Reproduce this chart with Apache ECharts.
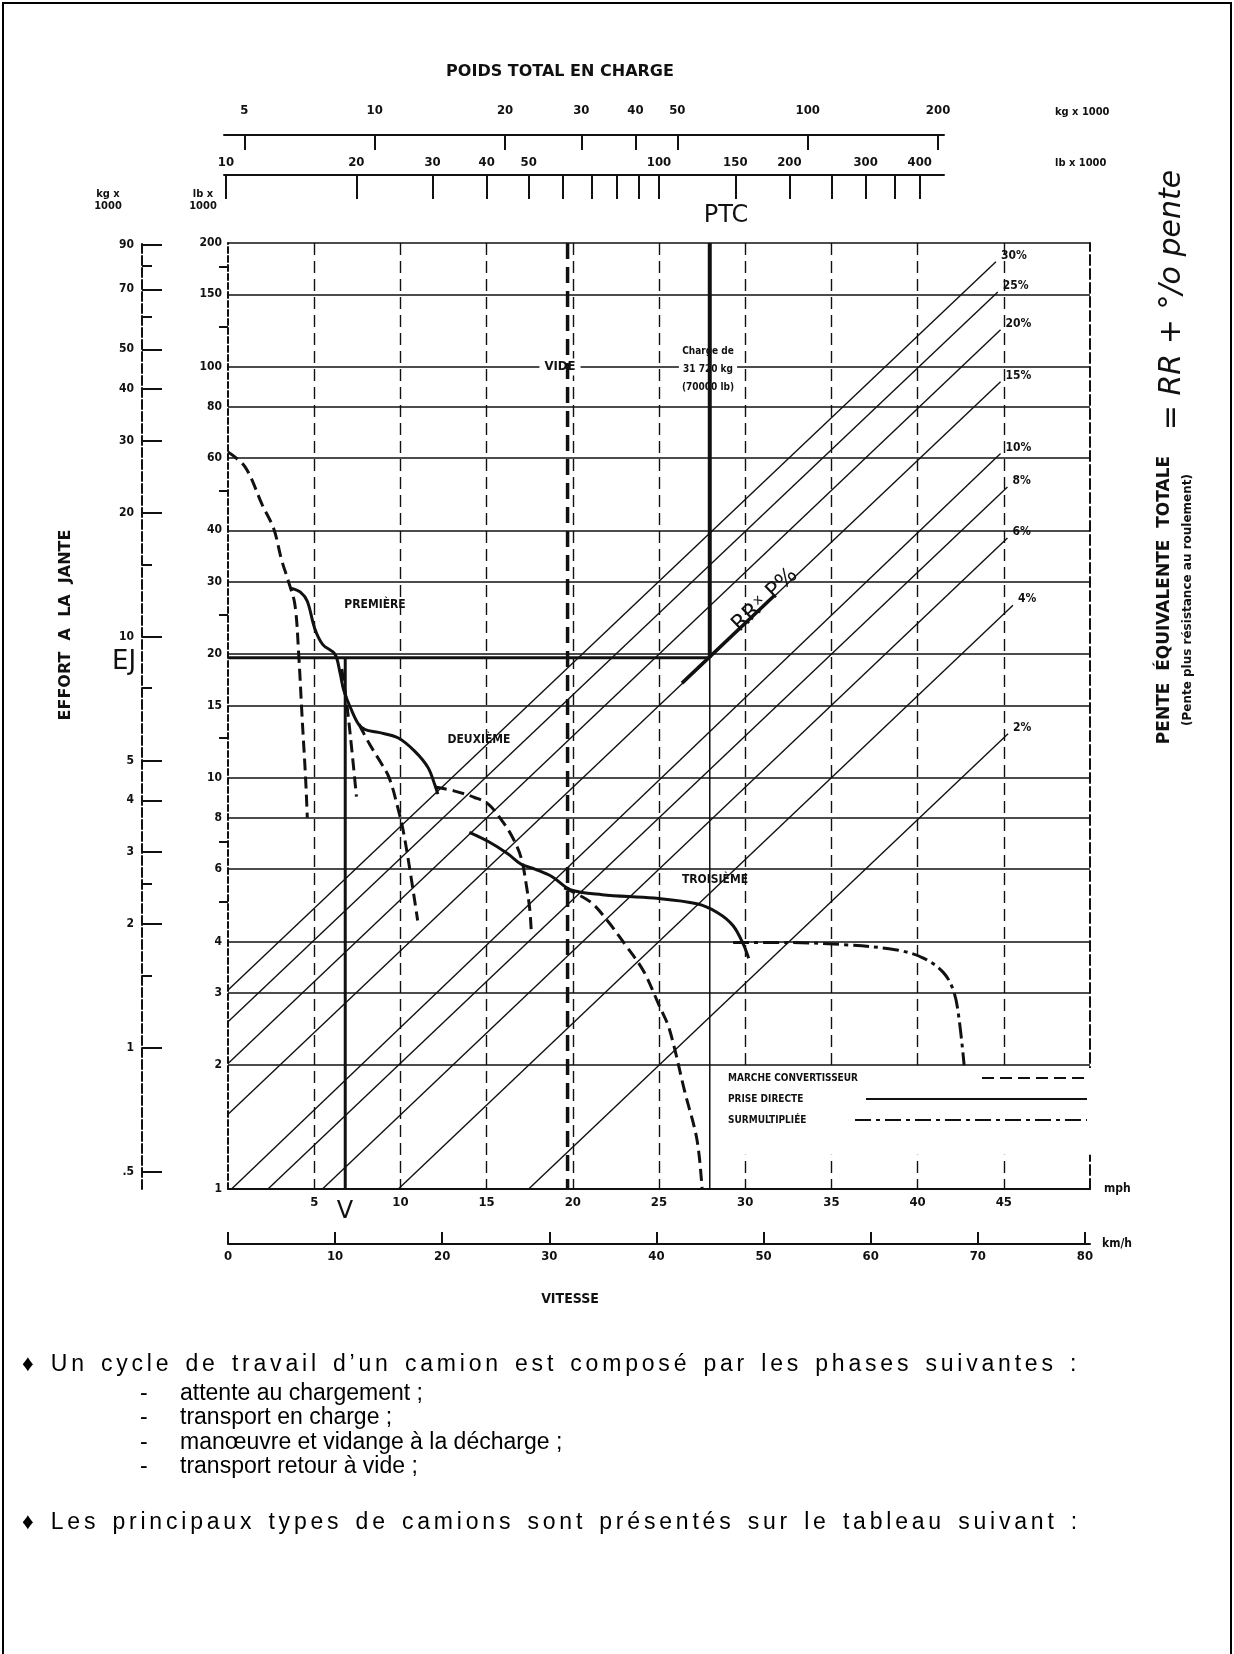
<!DOCTYPE html>
<html><head><meta charset="utf-8">
<script src="https://cdn.jsdelivr.net/npm/echarts@6/dist/echarts.min.js"></script>
<style>
html,body{margin:0;padding:0;background:#fff}
#wrap{position:relative;width:1234px;height:1654px}
#c{position:absolute;left:0;top:0;width:1234px;height:1654px}
.p{position:absolute;font-family:"Liberation Sans",Arial,sans-serif;font-size:23px;line-height:26px;color:#000;white-space:pre}
.sp{letter-spacing:3.8px;word-spacing:3px}
</style>
</head><body><div id="wrap"><div id="c"></div>
<div class="p sp" style="left:22px;top:1350px">♦ Un cycle de travail d’un camion est composé par les phases suivantes :</div>
<div class="p" style="left:140px;top:1379px">-</div><div class="p" style="left:180px;top:1379px">attente au chargement ;</div>
<div class="p" style="left:140px;top:1403px">-</div><div class="p" style="left:180px;top:1403px">transport en charge ;</div>
<div class="p" style="left:140px;top:1428px">-</div><div class="p" style="left:180px;top:1428px">manœuvre et vidange à la décharge ;</div>
<div class="p" style="left:140px;top:1452px">-</div><div class="p" style="left:180px;top:1452px">transport retour à vide ;</div>
<div class="p sp" style="left:22px;top:1508px">♦ Les principaux types de camions sont présentés sur le tableau suivant :</div>
</div>
<script>
// ---------- tick / label values ----------
const mphTicks = [5,10,15,20,25,30,35,40,45];
const kmhTicks = [0,10,20,30,40,50,60,70,80];
const lbTicks = [1,2,3,4,6,8,10,15,20,30,40,60,80,100,150,200];
const lbMinorTicks = [5,7,12.5,25,50,125,175];
const kgTicks = [0.5,1,2,3,4,5,10,20,30,40,50,70,90];
const kgMinorTicks = [1.5,2.5,7.5,15,60,80];
const ptcKgTicks = [5,10,20,30,40,50,100,200];
const ptcLbLabels = [10,20,30,40,50,100,150,200,300,400];
const ptcLbTicks = [10,20,30,40,50,60,70,80,90,100,150,200,250,300,350,400];

// ---------- grade lines (PTC lb x1000 , effort lb x1000) ----------
const gradeLabels = ['30%','25%','20%','15%','10%','8%','6%','4%','2%'];
const gradeStarts = [[10.11,3.05],[10.11,2.55],[10.11,2.02],[10.11,1.52],[10.3,1],[12.5,1],[16.7,1],[25,1],[50,1]];
const gradeEnds   = [[600,180],[606,152],[615,123],[615,92],[615,61.5],[638,51],[638,38.3],[657,26.3],[640,12.8]];
const rrSegment   = [[113,17.0],[185,27.8]];

// ---------- construction lines ----------
const videLine  = [[61.5,200],[61.5,1]];
const ptcLine   = [[131,200],[131,19.6]];
const ptcLower  = [[131,19.6],[131,1]];
const ejLine    = [[10.11,19.6],[131,19.6]];
const vLine     = [[6.8,19.6],[6.8,1]];

// ---------- rimpull curves (mph , lb x1000) ----------
const convCurves = [
  [[0,62],[1,57],[2,46],[2.65,40.4],[3.1,34],[3.5,30.1],[3.88,26.4],[4.1,20],[4.3,14],[4.5,10],[4.6,8]],
  [[6.6,18.4],[6.9,15],[7.2,11.5],[7.45,9.0]],
  [[7.6,13.5],[8.2,12.1],[8.8,11.0],[9.35,10],[9.9,8.3],[10.2,7.3],[10.6,5.8],[11.0,4.5]],
  [[12.0,9.5],[13.1,9.3],[14.3,8.96],[15.1,8.63],[15.9,7.86],[16.5,7.17],[17.0,6.4],[17.3,5.5],[17.5,4.8],[17.6,4.17]],
  [[19.5,5.4],[21,5.0],[22,4.5],[23,3.95],[24.1,3.39],[25,2.8],[25.6,2.45],[26.5,1.72],[27.2,1.32],[27.5,1.0]]
];
const directCurves = [
  [[3.7,28.9],[4.2,28.3],[4.6,26.9],[5.03,23.1],[5.5,21.1],[6.2,20.0],[6.5,18.0],[6.72,16.3],[7.2,14.5],[7.58,13.5],[7.96,13.1],[8.73,12.9],[9.88,12.5],[10.84,11.6],[11.6,10.6],[11.98,9.66],[12.17,9.13]],
  [[14.0,7.37],[15.1,7.0],[16.25,6.53],[17.0,6.17],[17.8,6.0],[18.8,5.75],[19.85,5.35],[21.7,5.2],[24.7,5.1],[27.2,4.94],[28.4,4.7],[29.3,4.37],[29.9,3.93],[30.2,3.64]]
];
const overdriveCurves = [
  [[29.3,3.98],[32.0,3.98],[35.7,3.93],[38.7,3.82],[40.3,3.65],[41.5,3.36],[42.1,3.02],[42.4,2.6],[42.7,2.0]]
];
const legendNames = ['MARCHE CONVERTISSEUR','PRISE DIRECTE','SURMULTIPLIÉE'];

// ---------- styling ----------
const F = '"DejaVu Sans Condensed","DejaVu Sans",sans-serif';
const B = '"DejaVu Sans",sans-serif';
const K = '#111';
const lbl = (extra) => Object.assign({color:K, fontFamily:F, fontWeight:'bold', fontSize:12}, extra||{});
const styles = {
  conv: {color:K, width:3, type:[12,6]},
  direct: {color:K, width:3, type:'solid'},
  over: {color:K, width:3, type:[16,5,4,5]}
};

const series = [];
function addLine(name, data, ls, xi, yi, extra) {
  series.push(Object.assign({type:'line', name:name, data:data, xAxisIndex:xi, yAxisIndex:yi,
    symbol:'none', silent:true, animation:false, lineStyle:ls, itemStyle:{color:K}, z:3}, extra||{}));
}
convCurves.forEach(d => addLine(legendNames[0], d, styles.conv, 0, 0, {smooth:0.35}));
directCurves.forEach(d => addLine(legendNames[1], d, styles.direct, 0, 0, {smooth:0.35}));
overdriveCurves.forEach(d => addLine(legendNames[2], d, styles.over, 0, 0, {smooth:0.35}));
addLine('V', vLine, {color:K, width:3}, 0, 0);
gradeLabels.forEach((g, i) => addLine('pente ' + g, [gradeStarts[i], gradeEnds[i]], {color:K, width:1.4}, 2, 5,
  {endLabel:{show:true, formatter:g, distance:5, color:K, fontFamily:F, fontWeight:'bold', fontSize:12, offset:[0,-6]}}));
addLine('RR', rrSegment, {color:K, width:3.5}, 2, 5);
addLine('vide', videLine, {color:K, width:3.5, type:[16,8]}, 2, 5);
addLine('ptc', ptcLine, {color:K, width:4}, 2, 5);
addLine('ptc2', ptcLower, {color:K, width:1.5}, 2, 5);
addLine('EJ', ejLine, {color:K, width:3}, 2, 5);

const legendBase = {orient:'horizontal', align:'left', itemHeight:12, selectedMode:false,
  formatter:() => '', itemStyle:{opacity:0, color:'rgba(0,0,0,0)', borderWidth:0}, textStyle:{fontSize:1}};

const T = (x, y, text, font, extra) => Object.assign({type:'text', x:x, y:y, z:100,
  style:Object.assign({text:text, font:font, fill:K, align:'center', verticalAlign:'middle'}, (extra && extra.style) || {})},
  extra ? (({style, ...rest}) => rest)(extra) : {});

const option = {
  animation:false,
  backgroundColor:'#fff',
  grid:[
    {left:228, top:243, width:862, height:946, outerBoundsMode:'none'},
    {left:228, top:243, width:862, height:946, outerBoundsMode:'none'},
    {left:224, top:135, width:720, height:40, outerBoundsMode:'none'}
  ],
  xAxis:[
    {gridIndex:0, type:'value', min:0, max:50, position:'bottom',
      axisLine:{show:true, onZero:false, lineStyle:{color:K, width:2}},
      axisTick:{show:false, customValues:mphTicks},
      axisLabel:lbl({customValues:mphTicks, margin:7, fontSize:13}),
      splitLine:{show:true, lineStyle:{color:K, width:1.4, type:[12,6]}},
      name:'mph', nameLocation:'end', nameGap:14, nameTextStyle:lbl({fontSize:12})},
    {gridIndex:0, type:'value', min:0, max:80.47, position:'bottom', offset:55,
      axisLine:{show:true, onZero:false, lineStyle:{color:K, width:2}},
      axisTick:{show:true, inside:true, length:12, customValues:kmhTicks, lineStyle:{color:K, width:2}},
      axisLabel:lbl({customValues:kmhTicks, margin:6, fontSize:13}),
      splitLine:{show:false},
      name:'km/h', nameLocation:'end', nameGap:12, nameTextStyle:lbl({fontSize:12})},
    {gridIndex:1, type:'log', logBase:10, min:10.107, max:989.5, show:false},
    {gridIndex:2, type:'log', logBase:10, min:4.488, max:206.4, position:'top',
      axisLine:{show:true, onZero:false, lineStyle:{color:K, width:2}},
      axisTick:{show:true, inside:true, length:15, customValues:ptcKgTicks, lineStyle:{color:K, width:2}},
      axisLabel:lbl({customValues:ptcKgTicks, margin:18, fontSize:13}),
      splitLine:{show:false}},
    {gridIndex:2, type:'log', logBase:10, min:9.894, max:455, position:'bottom',
      axisLine:{show:true, onZero:false, lineStyle:{color:K, width:2}},
      axisTick:{show:true, inside:false, length:24, customValues:ptcLbTicks, lineStyle:{color:K, width:2}},
      axisLabel:lbl({customValues:ptcLbLabels, inside:true, margin:6, fontSize:13}),
      splitLine:{show:false}}
  ],
  yAxis:[
    {gridIndex:0, type:'log', logBase:10, min:1, max:200, position:'left',
      axisLine:{show:true, onZero:false, lineStyle:{color:K, width:2, type:[6,3]}},
      axisTick:{show:false, customValues:lbTicks},
      axisLabel:lbl({customValues:lbTicks, margin:6}),
      splitLine:{show:true, lineStyle:{color:K, width:1.6}}},
    {gridIndex:0, type:'log', logBase:10, min:1, max:200, position:'left',
      axisLine:{show:false, onZero:false},
      axisTick:{show:true, inside:false, length:9, customValues:lbMinorTicks, lineStyle:{color:K, width:2}},
      axisLabel:{show:false}, splitLine:{show:false}},
    {gridIndex:0, type:'log', logBase:10, min:0.45359, max:90.718, position:'left', offset:86,
      axisLine:{show:true, onZero:false, lineStyle:{color:K, width:2, type:[9,3]}},
      axisTick:{show:true, inside:true, length:20, customValues:kgTicks, lineStyle:{color:K, width:2}},
      axisLabel:lbl({customValues:kgTicks, margin:8, formatter:v => v < 1 ? String(v).replace('0.', '.') : String(v)}),
      splitLine:{show:false}},
    {gridIndex:0, type:'log', logBase:10, min:0.45359, max:90.718, position:'left', offset:86,
      axisLine:{show:false, onZero:false},
      axisTick:{show:true, inside:true, length:10, customValues:kgMinorTicks, lineStyle:{color:K, width:2}},
      axisLabel:{show:false}, splitLine:{show:false}},
    {gridIndex:0, type:'log', logBase:10, min:1, max:200, position:'right',
      axisLine:{show:true, onZero:false, lineStyle:{color:K, width:2, type:[10,4]}},
      axisTick:{show:false}, axisLabel:{show:false}, splitLine:{show:false}},
    {gridIndex:1, type:'log', logBase:10, min:1, max:200, show:false},
    {gridIndex:2, type:'value', min:0, max:1, show:false}
  ],
  legend:[
    Object.assign({}, legendBase, {data:[legendNames[0]], left:718, top:1068, itemWidth:105,
      backgroundColor:'#fff', padding:[4,3,72,263]}),
    Object.assign({}, legendBase, {data:[legendNames[1]], left:865, top:1093, itemWidth:221, padding:0}),
    Object.assign({}, legendBase, {data:[legendNames[2]], left:854, top:1114, itemWidth:232, padding:0})
  ],
  graphic:[
    {type:'rect', shape:{x:3, y:3, width:1228, height:1700}, style:{fill:'none', stroke:'#000', lineWidth:2}, silent:true},
    T(560, 72, 'POIDS TOTAL EN CHARGE', 'bold 16px ' + B),
    T(1055, 112, 'kg x 1000', 'bold 11px ' + F, {style:{align:'left'}}),
    T(1055, 163, 'lb x 1000', 'bold 11px ' + F, {style:{align:'left'}}),
    T(726, 216, 'PTC', '24px ' + B),
    T(108, 200, 'kg x\n1000', 'bold 11px ' + F, {style:{lineHeight:12}}),
    T(203, 200, 'lb x\n1000', 'bold 11px ' + F, {style:{lineHeight:12}}),
    T(66, 625, 'EFFORT  A  LA  JANTE', 'bold 16px ' + B, {rotation:Math.PI/2}),
    T(124, 662, 'EJ', '26px ' + B),
    T(345, 1212, 'V', '24px ' + B),
    T(570, 1299, 'VITESSE', 'bold 14px ' + F),
    T(375, 605, 'PREMIÈRE', 'bold 12px ' + F),
    T(479, 740, 'DEUXIÈME', 'bold 12px ' + F),
    T(715, 880, 'TROISIÈME', 'bold 12px ' + F),
    T(560, 367, 'VIDE', 'bold 13px ' + F, {z:1, style:{backgroundColor:'#fff', padding:[2,5]}}),
    T(708, 369, 'Charge de\n31 720 kg\n(70000 lb)', 'bold 10px ' + F, {z:1, style:{lineHeight:18, backgroundColor:'#fff', padding:[0,3]}}),
    T(765, 600, 'RRˣ P%', '22px ' + B, {rotation:Math.PI*43.6/180}),
    T(1165, 600, 'PENTE  ÉQUIVALENTE  TOTALE', 'bold 17px ' + B, {rotation:Math.PI/2}),
    T(1188, 600, '(Pente plus résistance au roulement)', 'bold 12px ' + B, {rotation:Math.PI/2}),
    T(1172, 300, '= RR + °/o pente', 'italic 30px ' + B, {rotation:Math.PI/2}),
    T(728, 1078, legendNames[0], 'bold 10px ' + F, {style:{align:'left'}}),
    T(728, 1099, legendNames[1], 'bold 10px ' + F, {style:{align:'left'}}),
    T(728, 1120, legendNames[2], 'bold 10px ' + F, {style:{align:'left'}})
  ],
  series:series
};
const chart = echarts.init(document.getElementById('c'), null, {renderer:'canvas'});
chart.setOption(option);
</script>
</body></html>
